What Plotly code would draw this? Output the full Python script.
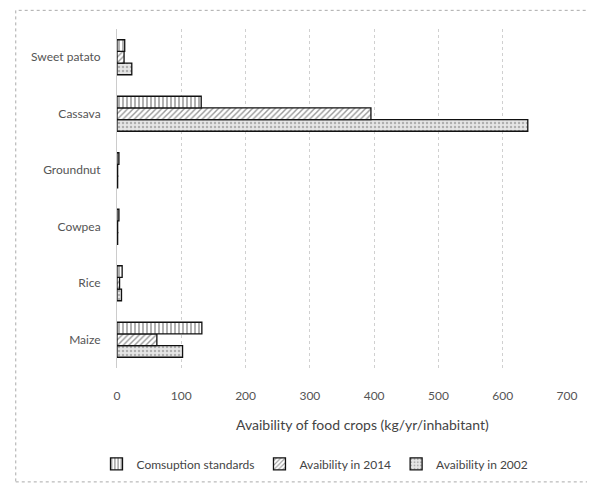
import plotly.graph_objects as go

crops = ["Maize", "Rice", "Cowpea", "Groundnut", "Cassava", "Sweet patato"]
consumption_std = [132, 8, 3, 3, 131, 12]
avail_2014 = [62, 4, 1, 1, 395, 11]
avail_2002 = [102, 7, 1, 1, 639, 23]
x_ticks = [0, 100, 200, 300, 400, 500, 600, 700]
x_title = "Avaibility of food crops (kg/yr/inhabitant)"

font_family = "Lato, 'Open Sans', sans-serif"

fig = go.Figure()
fig.add_trace(go.Bar(
    y=crops, x=avail_2002, orientation="h", name="Avaibility in 2002",
    marker=dict(color="#e6e6e6", line=dict(color="#111", width=1.3),
                pattern=dict(shape=".", fgcolor="#777", bgcolor="#e6e6e6", size=4, solidity=0.3)),
))
fig.add_trace(go.Bar(
    y=crops, x=avail_2014, orientation="h", name="Avaibility in 2014",
    marker=dict(color="white", line=dict(color="#111", width=1.3),
                pattern=dict(shape="/", fgcolor="#333", bgcolor="white", size=4, solidity=0.35)),
))
fig.add_trace(go.Bar(
    y=crops, x=consumption_std, orientation="h", name="Comsuption standards",
    marker=dict(color="white", line=dict(color="#111", width=1.3),
                pattern=dict(shape="|", fgcolor="#222", bgcolor="white", size=4, solidity=0.35)),
))

fig.update_layout(
    width=595, height=488,
    margin=dict(l=109, r=36, t=21, b=128),
    paper_bgcolor="white", plot_bgcolor="white",
    barmode="group", bargap=0.38, bargroupgap=0,
    font=dict(family=font_family, size=12, color="#555"),
    showlegend=True,
    legend=dict(orientation="h", traceorder="reversed", x=0.44, xanchor="center",
                y=-0.24, yanchor="top", font=dict(size=12, color="#444"),
                itemwidth=30, bgcolor="rgba(0,0,0,0)"),
    xaxis=dict(range=[0, 700], tickvals=x_ticks, showgrid=True, gridcolor="#d0d0d0",
               griddash="dot", gridwidth=1, zeroline=False, showline=False,
               ticks="", ticklabelstandoff=19, tickfont=dict(size=12, color="#555")),
    yaxis=dict(showgrid=False, zeroline=False, showline=True, linecolor="#ccc",
               linewidth=1, ticks="", ticklabelstandoff=13,
               tickfont=dict(size=12, color="#555")),
    annotations=[dict(text=x_title, xref="paper", yref="paper", x=0.545, y=-0.168,
                      xanchor="center", yanchor="middle", showarrow=False,
                      font=dict(size=14, color="#444"))],
    shapes=[dict(type="rect", xref="paper", yref="paper",
                 x0=-0.225, x1=1.051, y0=-0.336, y1=1.055,
                 line=dict(color="#aaa", width=1, dash="dot"))],
)

fig.write_html("out.html")
